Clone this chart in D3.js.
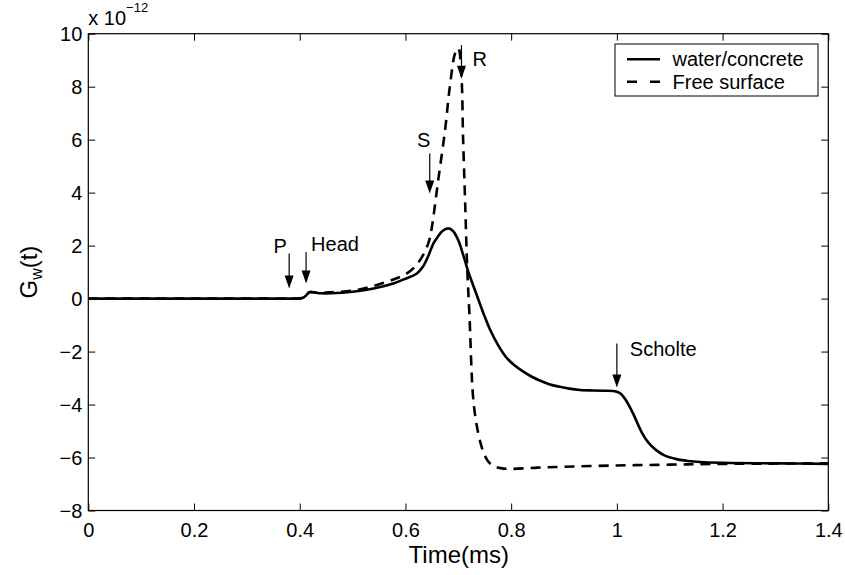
<!DOCTYPE html>
<html>
<head>
<meta charset="utf-8">
<script src="https://cdn.jsdelivr.net/npm/d3@7/dist/d3.min.js"></script>
<style>
  html, body { margin: 0; padding: 0; background: #fff; }
  svg { display: block; font-family: "Liberation Sans", Arial, Helvetica, sans-serif; }
</style>
</head>
<body>
<svg id="chart" width="845" height="575"></svg>
<script>
// ---- data ----
const xTicks = [0, 0.2, 0.4, 0.6, 0.8, 1.0, 1.2, 1.4];
const xTickLabels = ["0", "0.2", "0.4", "0.6", "0.8", "1", "1.2", "1.4"];
const yTicks = [-8, -6, -4, -2, 0, 2, 4, 6, 8, 10];
const yTickLabels = ["\u22128", "\u22126", "\u22124", "\u22122", "0", "2", "4", "6", "8", "10"];
const seriesNames = ["water/concrete", "Free surface"];

// water/concrete (solid), time in ms, value in 1e-12
const solidT = [0, 0.1, 0.2, 0.3, 0.38, 0.405, 0.412, 0.418, 0.425, 0.44, 0.46, 0.5, 0.54, 0.577, 0.6, 0.621, 0.633, 0.643, 0.65, 0.654, 0.66, 0.67, 0.681, 0.69, 0.70, 0.71, 0.72, 0.73, 0.74, 0.75, 0.76, 0.775, 0.79, 0.805, 0.823, 0.84, 0.854, 0.872, 0.892, 0.91, 0.93, 0.955, 0.975, 0.993, 1.005, 1.013, 1.022, 1.031, 1.047, 1.06, 1.075, 1.09, 1.113, 1.135, 1.157, 1.2, 1.3, 1.4];
const solidV = [0, 0, 0, 0, 0, 0.02, 0.12, 0.24, 0.24, 0.2, 0.2, 0.26, 0.38, 0.57, 0.75, 0.94, 1.2, 1.6, 1.95, 2.12, 2.3, 2.55, 2.65, 2.55, 2.2, 1.6, 0.95, 0.4, -0.15, -0.68, -1.17, -1.75, -2.2, -2.5, -2.76, -2.96, -3.09, -3.23, -3.33, -3.4, -3.45, -3.47, -3.48, -3.49, -3.56, -3.72, -4.0, -4.35, -5.05, -5.45, -5.73, -5.92, -6.06, -6.13, -6.17, -6.2, -6.22, -6.24];

// Free surface (dashed)
const dashT = [0, 0.1, 0.2, 0.3, 0.38, 0.405, 0.412, 0.418, 0.425, 0.44, 0.46, 0.5, 0.54, 0.577, 0.602, 0.62, 0.635, 0.645, 0.65, 0.662, 0.675, 0.684, 0.694, 0.700, 0.706, 0.709, 0.713, 0.717, 0.721, 0.728, 0.735, 0.745, 0.755, 0.765, 0.78, 0.8, 0.85, 0.9, 1.0, 1.1, 1.2, 1.4];
const dashV = [0, 0, 0, 0, 0, 0.02, 0.12, 0.24, 0.24, 0.22, 0.24, 0.3, 0.48, 0.72, 0.94, 1.25, 1.7, 2.2, 2.7, 4.47, 6.36, 8.0, 9.26, 9.45, 8.37, 6.1, 3.6, 1.07, -0.57, -3.72, -4.8, -5.65, -6.1, -6.3, -6.4, -6.43, -6.38, -6.35, -6.3, -6.27, -6.24, -6.22];

// annotations: label, time of arrow, value at arrow tip, value at arrow top
const annLabels = ["P", "Head", "S", "R", "Scholte"];
const annT = [0.38, 0.412, 0.646, 0.706, 1.0];
const annTip = [0.38, 0.57, 3.97, 8.3, -3.36];
const annTop = [1.7, 1.76, 5.48, 9.57, -1.7];

// ---- layout ----
const svg = d3.select("#chart");
const L = 88.3, R = 828.3, T = 33.7, B = 510.5;
const x = d3.scaleLinear().domain([0, 1.4]).range([L, R]);
const y = d3.scaleLinear().domain([-8, 10]).range([B, T]);

const tickFont = 20;

// frame
svg.append("rect").attr("x", L).attr("y", T).attr("width", R - L).attr("height", B - T)
  .attr("fill", "none").attr("stroke", "#000").attr("stroke-width", 1.2);

// axes with inward ticks
const gx = svg.append("g").attr("transform", `translate(0,${B})`)
  .call(d3.axisBottom(x).tickValues(xTicks).tickSize(-7).tickPadding(13)
    .tickFormat((d, i) => xTickLabels[i]));
const gxt = svg.append("g").attr("transform", `translate(0,${T})`)
  .call(d3.axisTop(x).tickValues(xTicks).tickSize(-7).tickFormat(""));
const gy = svg.append("g").attr("transform", `translate(${L},0)`)
  .call(d3.axisLeft(y).tickValues(yTicks).tickSize(-7).tickPadding(6)
    .tickFormat((d, i) => yTickLabels[i]));
const gyr = svg.append("g").attr("transform", `translate(${R},0)`)
  .call(d3.axisRight(y).tickValues(yTicks).tickSize(-7).tickFormat(""));

[gx, gxt, gy, gyr].forEach(g => {
  g.select(".domain").remove();
  g.selectAll(".tick line").attr("stroke", "#000").attr("stroke-width", 1);
  g.selectAll("text").attr("font-family", "Liberation Sans, Arial, sans-serif")
    .attr("font-size", tickFont).attr("fill", "#000");
});
gx.selectAll(".tick text").attr("dy", "0.68em");
gy.selectAll(".tick text").attr("dy", "0.36em");

// exponent label
const expo = svg.append("text").attr("x", L).attr("y", 25).attr("font-size", 20).attr("fill", "#000");
expo.append("tspan").text("x 10");
expo.append("tspan").attr("font-size", 13).attr("dy", -13).text("\u221212");

// axis titles
svg.append("text").attr("x", (L + R) / 2 + 0.5).attr("y", 563).attr("text-anchor", "middle")
  .attr("font-size", 24).attr("fill", "#000").text("Time(ms)");
const yl = svg.append("text").attr("transform", `translate(37,${(T + B) / 2 - 0})rotate(-90)`)
  .attr("text-anchor", "middle").attr("font-size", 24).attr("fill", "#000");
yl.append("tspan").text("G");
yl.append("tspan").attr("font-size", 16).attr("dy", 5).text("w");
yl.append("tspan").attr("dy", -5).text("(t)");

// curves
const line = d3.line().x(d => x(d[0])).y(d => y(d[1])).curve(d3.curveCatmullRom.alpha(0.5));
const clip = svg.append("clipPath").attr("id", "clip").append("rect")
  .attr("x", L).attr("y", T).attr("width", R - L).attr("height", B - T);
const solid = solidT.map((t, i) => [t, solidV[i]]);
const dashed = dashT.map((t, i) => [t, dashV[i]]);
svg.append("path").datum(dashed).attr("d", line).attr("fill", "none")
  .attr("stroke", "#000").attr("stroke-width", 2.6).attr("stroke-dasharray", "10,7")
  .attr("clip-path", "url(#clip)");
svg.append("path").datum(solid).attr("d", line).attr("fill", "none")
  .attr("stroke", "#000").attr("stroke-width", 2.6).attr("stroke-linejoin", "round")
  .attr("clip-path", "url(#clip)");

// annotations (arrows)
const labelPos = [
  {dx: -9, dy: -1, anchor: "middle"},
  {dx: 5, dy: -1, anchor: "start"},
  {dx: -6, dy: -6, anchor: "middle"},
  {dx: 11, dy: 21, anchor: "start"},
  {dx: 13, dy: 12, anchor: "start"}
];
annLabels.forEach((lab, i) => {
  const ax = x(annT[i]), ytop = y(annTop[i]), ytip = y(annTip[i]);
  const headLen = 13, headW = 4.5;
  svg.append("line").attr("x1", ax).attr("x2", ax).attr("y1", ytop).attr("y2", ytip - headLen + 1)
    .attr("stroke", "#000").attr("stroke-width", 1.2);
  svg.append("path")
    .attr("d", `M${ax - headW},${ytip - headLen}L${ax + headW},${ytip - headLen}L${ax},${ytip}Z`)
    .attr("fill", "#000");
  const p = labelPos[i];
  svg.append("text").attr("x", ax + p.dx).attr("y", ytop + p.dy)
    .attr("text-anchor", p.anchor).attr("font-size", 20).attr("fill", "#000").text(lab);
});

// legend
const lg = svg.append("g");
lg.append("rect").attr("x", 615).attr("y", 44).attr("width", 203).attr("height", 52)
  .attr("fill", "#fff").attr("stroke", "#000").attr("stroke-width", 1);
const legY = [59.3, 81.7];
seriesNames.forEach((name, i) => {
  lg.append("line").attr("x1", 627).attr("x2", 660).attr("y1", legY[i]).attr("y2", legY[i])
    .attr("stroke", "#000").attr("stroke-width", 2.6)
    .attr("stroke-dasharray", i === 1 ? "10,13" : null);
  lg.append("text").attr("x", 672.5).attr("y", legY[i] + 7).attr("font-size", 20)
    .attr("fill", "#000").text(name);
});
</script>
</body>
</html>
